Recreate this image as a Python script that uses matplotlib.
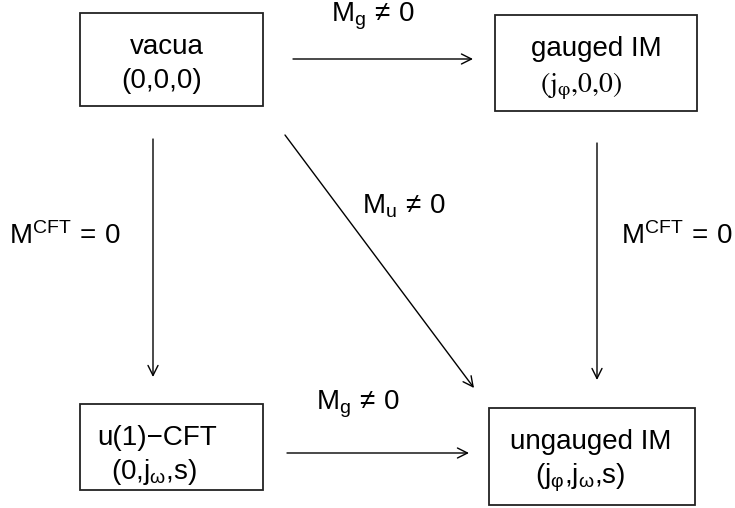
import matplotlib.pyplot as plt
from matplotlib.patches import Rectangle

plt.rcParams['font.family'] = ['Liberation Sans', 'DejaVu Sans']
plt.rcParams['mathtext.fontset'] = 'custom'
plt.rcParams['mathtext.rm'] = 'Liberation Sans'
plt.rcParams['mathtext.it'] = 'Liberation Sans:italic'
plt.rcParams['mathtext.sf'] = 'Liberation Sans'

# nodes of the diagram: name, first line, second line
nombres = ['vacua', 'gauged', 'cft', 'ungauged']
titulos = ['vacua', 'gauged IM', 'u(1)\u2212CFT', 'ungauged IM']
cargas = ['(0,0,0)', r'$(\mathrm{j}_{\mathrm{\varphi}}{,}0{,}0)$',
          r'$(0{,}\mathrm{j}_{\mathrm{ω}}{,}\mathrm{s})$',
          r'$(\mathrm{j}_{\mathrm{φ}}{,}\mathrm{j}_{\mathrm{ω}}{,}\mathrm{s})$']

# arrows: origin, destination, label
flechas_desde = ['vacua', 'vacua', 'vacua', 'gauged', 'cft']
flechas_hasta = ['gauged', 'cft', 'ungauged', 'ungauged', 'ungauged']
etiquetas = [r'$\mathrm{M_g}\,\neq\,0$', r'$\mathrm{M^{CFT}}\,=\,0$',
             r'$\mathrm{M_u}\,\neq\,0$', r'$\mathrm{M^{CFT}}\,=\,0$',
             r'$\mathrm{M_g}\,\neq\,0$']

# layout in pixels (x0, y0, x1, y1), y going down
cajas = {'vacua': (80, 13, 263, 106), 'gauged': (495, 15, 697, 111),
         'cft': (80, 404, 263, 490), 'ungauged': (489, 408, 695, 505)}
pos_titulo = {'vacua': (167, 47), 'gauged': (596, 49),
              'cft': (157, 438), 'ungauged': (591, 442)}
pos_carga = {'vacua': (162, 81), 'gauged': (581, 86),
             'cft': (154, 472), 'ungauged': (580, 478)}
tramos = [((293, 59), (473, 59)), ((153, 139), (153, 377)),
          ((285, 135), (474, 388)), ((597, 143), (597, 380)),
          ((287, 453), (469, 453))]
pos_etiqueta = [(65, 244), (65, 244), (404, 213), (677, 244), (358, 410)]
pos_etiqueta[0] = (373, 22)

fig = plt.figure(figsize=(7.35, 5.08), dpi=100)
ax = fig.add_axes([0, 0, 1, 1])
ax.set_xlim(0, 735)
ax.set_ylim(508, 0)
ax.axis('off')

for i, n in enumerate(nombres):
    x0, y0, x1, y1 = cajas[n]
    ax.add_patch(Rectangle((x0, y0), x1 - x0, y1 - y0, fill=False,
                           edgecolor='#222222', lw=1.3))
    ax.text(*pos_titulo[n], titulos[i], fontsize=20, ha='center', va='center')
    if n == 'gauged':
        ax.text(*pos_carga[n], cargas[i], fontsize=20, ha='center', va='center',
                math_fontfamily='stix')
    else:
        ax.text(*pos_carga[n], cargas[i], fontsize=20, ha='center', va='center')

for (a, b), et, pe in zip(tramos, etiquetas, pos_etiqueta):
    ax.annotate('', xy=b, xytext=a,
                arrowprops=dict(arrowstyle='->', lw=1.0, color='black',
                                mutation_scale=18, shrinkA=0, shrinkB=0))
    ax.text(*pe, et, fontsize=20, ha='center', va='baseline')

fig.savefig('out.png', dpi=100)
